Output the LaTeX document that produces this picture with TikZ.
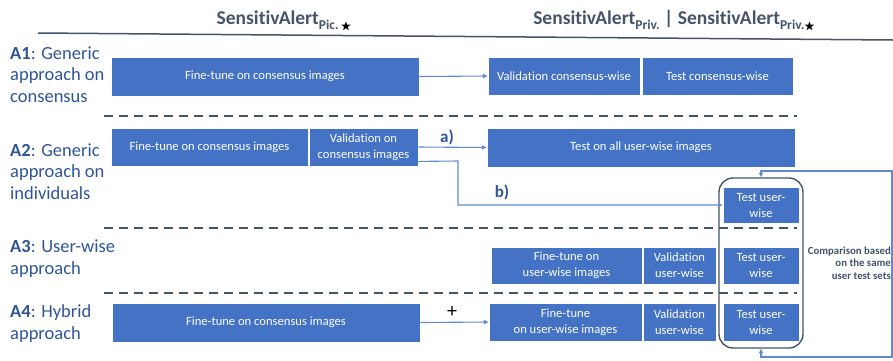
\documentclass[tikz,border=0pt]{standalone}
\usepackage{fontspec}
\setmainfont{Carlito}[Ligatures=CommonOff]
\usepackage{amssymb}
\usetikzlibrary{arrows.meta, positioning}
\definecolor{azul}{RGB}{68, 114, 196}
\definecolor{marino}{RGB}{47, 85, 151}
\definecolor{pizarra}{RGB}{68, 84, 106}
\definecolor{celeste}{RGB}{96, 138, 210}
\newcommand{\subtl}[1]{\raisebox{-4.5pt}{\fontsize{13.5}{16}\selectfont #1}}
\newcommand{\estrella}{\textcolor{black}{\fontsize{11}{12}\selectfont$\bigstar$}}
\tikzset{
    blk/.style={draw=white, line width=0.8pt, fill=azul, text=white, align=center, inner sep=1pt, font=\fontsize{12.6}{16}\selectfont},
    sz/.style n args={2}{minimum width=#1pt, minimum height=#2pt},
    lbl/.style={anchor=base west, align=left, inner sep=0pt, text=marino, font=\fontsize{18.5}{21.5}\selectfont},
    ttl/.style={text=pizarra, font=\fontsize{19.5}{23}\selectfont\bfseries},
    flow/.style={-{Triangle[length=4.5pt, width=4pt]}, celeste, line width=1.1pt},
    fb/.style={{Triangle[length=4.5pt, width=4pt]}-{Triangle[length=4.5pt, width=4pt]}, celeste, line width=1.1pt},
    sep/.style={pizarra, line width=2.6pt, dash pattern=on 9pt off 6pt},
    tag/.style={text=marino, font=\fontsize{17}{20}\selectfont\bfseries},
}
\begin{document}
\begin{tikzpicture}[x=1pt, y=-1pt]
    \useasboundingbox (0,0) rectangle (893,360);

    % column titles
    \node [ttl] (tpic) at (284,21) {SensitivAlert\subtl{Pic.\,\estrella}};
    \node [ttl] (tpriv) at (674,21) {SensitivAlert\subtl{Priv.}\ |\ SensitivAlert\subtl{Priv.\estrella}};
    \draw [pizarra, line width=1.5pt] (38,33) -- (893,40);

    % row labels (base = last line)
    \node [lbl] (a1) at (10,102) {\textbf{A1}: Generic\\approach on\\consensus};
    \node [lbl] (a2) at (10,199) {\textbf{A2}: Generic\\approach on\\individuals};
    \node [lbl] (a3) at (10,274) {\textbf{A3}: User-wise\\approach};
    \node [lbl] (a4) at (10,339) {\textbf{A4}: Hybrid\\approach};

    % separators
    \foreach \y in {116,228,293}
        \draw [sep] (104,\y) -- (797,\y);

    % A1
    \node [blk, sz={308}{39}] (ft1) at (265,76.5) {Fine-tune on consensus images};
    \node [blk, sz={152}{38}] (val1) at (564,76) {Validation consensus-wise};
    \node [blk, sz={151}{38}] (test1) at (717.5,76) {Test consensus-wise};

    % A2
    \node [blk, sz={197}{38}] (ft2) at (209.5,147) {Fine-tune on consensus images};
    \node [blk, sz={109}{38}] (val2) at (363.5,147) {Validation on\\consensus images};
    \node [blk, sz={308}{39}] (testall) at (641,147.5) {Test on all user-wise images};
    \node [blk, sz={76}{36}] (tu2) at (761,205) {Test user-\\wise};

    % A3
    \node [blk, sz={151}{37}] (ftu3) at (566.5,265.5) {Fine-tune on\\user-wise images};
    \node [blk, sz={73}{37}] (valu3) at (679.5,265.5) {Validation\\user-wise};
    \node [blk, sz={76}{37}] (tu3) at (761,265.5) {Test user-\\wise};

    % A4
    \node [blk, sz={308}{39}] (ft4) at (266,322.5) {Fine-tune on consensus images};
    \node [blk, sz={153}{38}] (ftu4) at (565.5,322) {Fine-tune\\on user-wise images};
    \node [blk, sz={73}{38}] (valu4) at (679.5,322) {Validation\\user-wise};
    \node [blk, sz={76}{38}] (tu4) at (761,322) {Test user-\\wise};

    % same user test sets
    \node [draw=pizarra, line width=1.4pt, rounded corners=14pt, sz={84}{170}] (grp) at (761,263) {};
    \node [anchor=base east, align=right, inner sep=0pt, text=pizarra, font=\fontsize{10.8}{12.7}\selectfont\bfseries] (cmptxt) at (891,279.4) {Comparison based\\on the same\\user test sets};

    \node [tag] (ta) at (447,137) {a)};
    \node [tag] (tb) at (502,192) {b)};
    \node [font=\fontsize{20}{22}\selectfont] (plus) at (452,312) {+};

    \coordinate (bk) at (458,161);
    \coordinate (fbt) at (892,171);
    \coordinate (fbb) at (892,357);

    \draw [flow] (ft1.east) -- (val1.west);
    \draw [flow] (val2.east) -- (testall.west);
    \draw [flow] ([yshift=5pt]val2.south east) -- (bk) |- (tu2.west);
    \draw [flow] (ft4.east) -- (ftu4.west);
    \draw [fb] (grp.north) |- (fbt) -- (fbb) -| (grp.south);
\end{tikzpicture}
\end{document}
